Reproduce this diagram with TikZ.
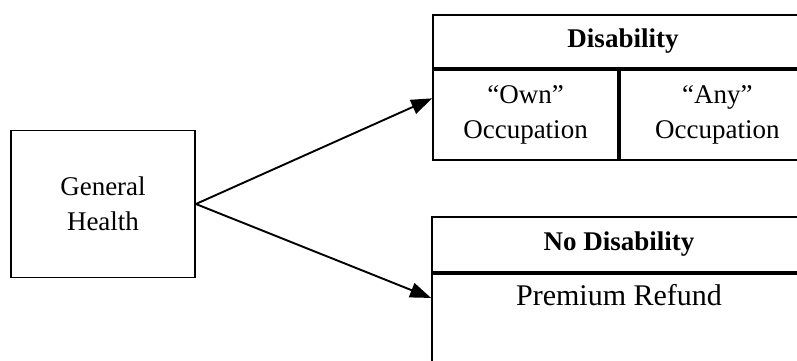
\documentclass[tikz,border=0pt]{standalone}
\usepackage{fontspec}
\setmainfont{Liberation Serif}
\usetikzlibrary{positioning,arrows.meta}

\begin{document}
\begin{tikzpicture}[x=1pt,y=-1pt,
      box/.style={draw,line width=1.8pt,inner sep=0pt,align=center,
                  font=\fontsize{27}{35}\selectfont},
      head/.style={box,font=\fontsize{27}{35}\selectfont\bfseries},
      arrow/.style={-{Triangle[length=21pt,width=15pt]},line width=1.9pt}]
    \useasboundingbox (0,0) rectangle (797,360);
    \clip (0,0) rectangle (797,360);
    \node[box,minimum width=184pt,minimum height=147pt] (health) at (103,204) {General\\ Health};
    % disability branch
    \node[head,minimum width=380pt,minimum height=53pt] (dis) at (623,41.5) {Disability};
    \node[box,anchor=north west,minimum width=185pt,minimum height=90pt] (own) at (dis.south west) {``Own''\\ Occupation};
    \node[box,right=0pt of own,minimum width=195pt,minimum height=90pt] (any) {``Any''\\ Occupation};
    % no disability branch
    \node[head,minimum width=374pt,minimum height=55pt] (nodis) at (619,244.5) {No Disability};
    \node[box,anchor=north,minimum width=374pt,text height=32pt,text depth=110pt,
          font=\fontsize{30}{36}\selectfont] (refund) at (nodis.south) {Premium Refund};
    \draw[arrow] (health.east) -- (own.170);
    \draw[arrow] (health.east) -- (refund.166.5);
  \end{tikzpicture}
\end{document}
